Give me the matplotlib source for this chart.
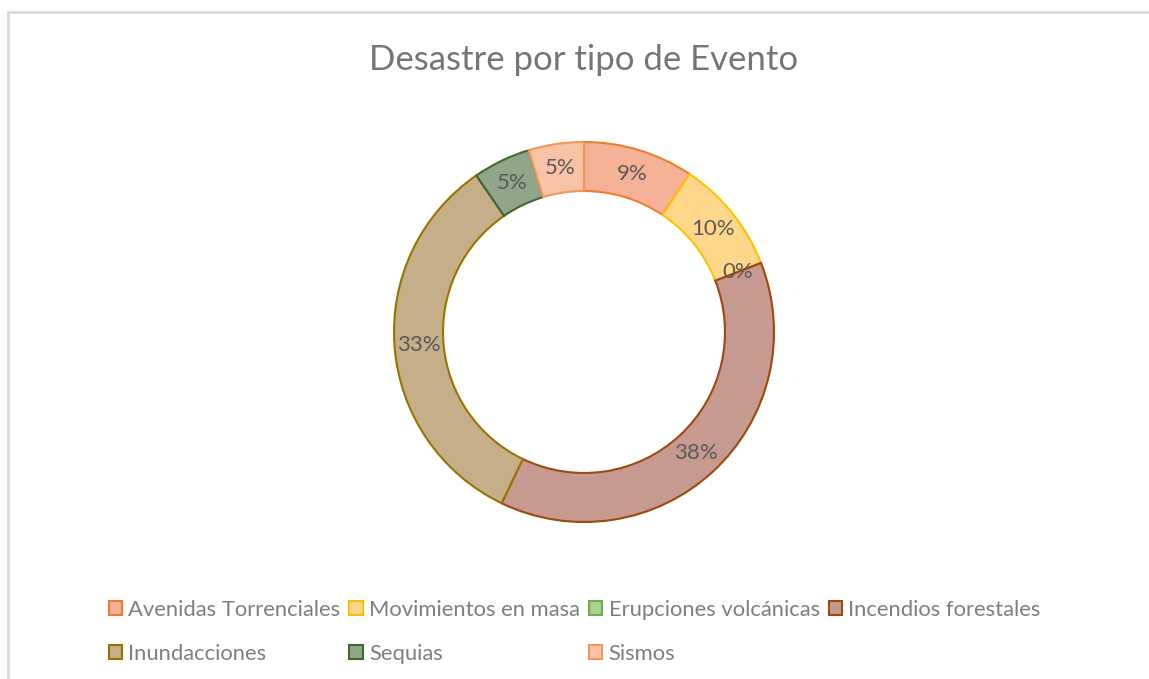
import matplotlib
matplotlib.use("Agg")
import matplotlib.pyplot as plt
from matplotlib.patches import Rectangle

plt.rcParams["font.family"] = ["Lato", "DejaVu Sans"]

# ── data ─────────────────────────────────────────────
categorias = [
    "Avenidas Torrenciales",
    "Movimientos en masa",
    "Erupciones volcánicas",
    "Incendios forestales",
    "Inundacciones",
    "Sequias",
    "Sismos",
]
porcentajes = [9.4, 9.7, 0.0, 38.1, 33.3, 4.9, 4.7]

relleno = ["#F5B196", "#FFD78A", "#A9D18E", "#C69A90", "#C6AE89", "#8FA68A", "#F8C2A6"]
borde = ["#ED7D31", "#FFC000", "#70AD47", "#9E480E", "#997300", "#43682B", "#F1975A"]

W, H = 1149, 679
fig = plt.figure(figsize=(W / 100, H / 100), dpi=100)
fig.patch.set_facecolor("white")

# chart border (light gray frame)
fig.add_artist(Rectangle((8 / W, -0.05), 1.2, (H - 12) / H + 0.05,
                         transform=fig.transFigure, fill=False,
                         edgecolor="#D9D9D9", linewidth=2))

# donut axes: centre (584, 332) px, radius 190 px
cx, cy, r = 584, 332, 190
ax = fig.add_axes([(cx - r) / W, (H - cy - r) / H, 2 * r / W, 2 * r / H])
wedges, _, autotexts = ax.pie(
    porcentajes,
    colors=relleno,
    startangle=90,
    counterclock=False,
    autopct="%1.0f%%",
    pctdistance=0.87,
    radius=1.0,
    wedgeprops=dict(width=0.258, linewidth=1.5),
    textprops=dict(color="#595959", fontsize=16),
)
for w, ec in zip(wedges, borde):
    w.set_edgecolor(ec)
ax.set_xlim(-1, 1)
ax.set_ylim(-1, 1)
ax.axis("off")

fig.text(cx / W, 1 - 60 / H, "Desastre por tipo de Evento",
         ha="center", va="center", fontsize=25, color="#757575")

# legend, filled row by row
orden = [0, 4, 1, 5, 2, 6, 3]
leg = fig.legend(
    [wedges[i] for i in orden],
    [categorias[i] for i in orden],
    ncol=4,
    loc="upper left",
    bbox_to_anchor=(89 / W, 1 - 580 / H),
    frameon=False,
    fontsize=15.8,
    labelcolor="#7F7F7F",
    handlelength=0.6,
    handleheight=0.6,
    handletextpad=0.3,
    columnspacing=0.4,
    labelspacing=1.1,
)

fig.savefig("out.png", dpi=100, facecolor="white")
